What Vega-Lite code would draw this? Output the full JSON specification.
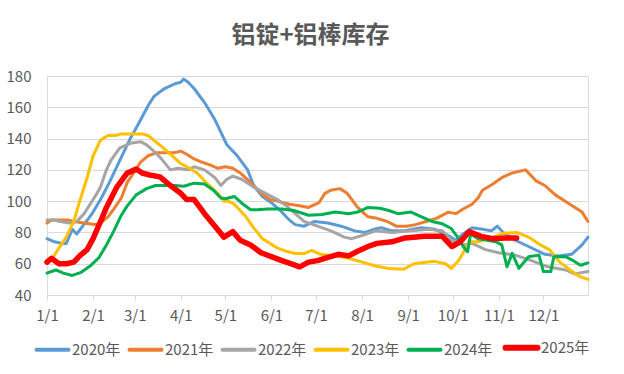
{
"$schema": "https://vega.github.io/schema/vega-lite/v6.json",
"width": 541, "height": 219,
"autosize": {"type": "none"},
"padding": {"left": 47, "top": 76, "right": 36, "bottom": 79},
"background": "white",
"title": {"text": "铝锭+铝棒库存", "fontSize": 24, "font": "Noto Sans CJK SC", "fontWeight": "bold", "color": "#595959", "offset": 21, "dx": -7},
"data": {"values": [
{"s":"2020年","day":0,"v":76},{"s":"2020年","day":5,"v":74},{"s":"2020年","day":10,"v":73},{"s":"2020年","day":13,"v":73},{"s":"2020年","day":17,"v":82},{"s":"2020年","day":20,"v":79},{"s":"2020年","day":24,"v":84},{"s":"2020年","day":28,"v":89},{"s":"2020年","day":31,"v":93},{"s":"2020年","day":36,"v":101},{"s":"2020年","day":42,"v":112},{"s":"2020年","day":49,"v":126},{"s":"2020年","day":56,"v":140},{"s":"2020年","day":59,"v":145},{"s":"2020年","day":63,"v":152},{"s":"2020年","day":68,"v":161},{"s":"2020年","day":72,"v":167},{"s":"2020年","day":79,"v":172},{"s":"2020年","day":86,"v":175},{"s":"2020年","day":90,"v":176},{"s":"2020年","day":92,"v":178},{"s":"2020年","day":95,"v":176},{"s":"2020年","day":99,"v":172},{"s":"2020年","day":106,"v":163},{"s":"2020年","day":113,"v":152},{"s":"2020年","day":118,"v":142},{"s":"2020年","day":121,"v":136},{"s":"2020年","day":128,"v":129},{"s":"2020年","day":135,"v":120},{"s":"2020年","day":139,"v":110},{"s":"2020年","day":145,"v":103},{"s":"2020年","day":151,"v":99},{"s":"2020年","day":157,"v":94},{"s":"2020年","day":163,"v":88},{"s":"2020年","day":167,"v":85},{"s":"2020年","day":173,"v":84},{"s":"2020年","day":180,"v":87},{"s":"2020年","day":189,"v":86},{"s":"2020年","day":198,"v":84},{"s":"2020年","day":207,"v":81},{"s":"2020年","day":214,"v":80},{"s":"2020年","day":220,"v":82},{"s":"2020年","day":225,"v":83},{"s":"2020年","day":232,"v":81},{"s":"2020年","day":240,"v":81},{"s":"2020年","day":246,"v":82},{"s":"2020年","day":252,"v":83},{"s":"2020年","day":261,"v":82},{"s":"2020年","day":270,"v":78},{"s":"2020年","day":275,"v":75},{"s":"2020年","day":280,"v":79},{"s":"2020年","day":286,"v":83},{"s":"2020年","day":293,"v":82},{"s":"2020年","day":299,"v":81},{"s":"2020年","day":303,"v":84},{"s":"2020年","day":307,"v":80},{"s":"2020年","day":315,"v":75},{"s":"2020年","day":324,"v":71},{"s":"2020年","day":335,"v":66},{"s":"2020年","day":344,"v":65},{"s":"2020年","day":353,"v":66},{"s":"2020年","day":360,"v":72},{"s":"2020年","day":364,"v":77},
{"s":"2021年","day":0,"v":86},{"s":"2021年","day":3,"v":88},{"s":"2021年","day":9,"v":88},{"s":"2021年","day":14,"v":88},{"s":"2021年","day":18,"v":87},{"s":"2021年","day":25,"v":86},{"s":"2021年","day":32,"v":85},{"s":"2021年","day":36,"v":86},{"s":"2021年","day":41,"v":90},{"s":"2021年","day":45,"v":95},{"s":"2021年","day":50,"v":102},{"s":"2021年","day":54,"v":112},{"s":"2021年","day":59,"v":119},{"s":"2021年","day":63,"v":125},{"s":"2021年","day":68,"v":129},{"s":"2021年","day":74,"v":131},{"s":"2021年","day":80,"v":131},{"s":"2021年","day":86,"v":131},{"s":"2021年","day":90,"v":132},{"s":"2021年","day":94,"v":130},{"s":"2021年","day":99,"v":127},{"s":"2021年","day":104,"v":125},{"s":"2021年","day":110,"v":123},{"s":"2021年","day":115,"v":121},{"s":"2021年","day":120,"v":122},{"s":"2021年","day":125,"v":121},{"s":"2021年","day":130,"v":118},{"s":"2021年","day":137,"v":112},{"s":"2021年","day":144,"v":105},{"s":"2021年","day":150,"v":101},{"s":"2021年","day":155,"v":100},{"s":"2021年","day":163,"v":98},{"s":"2021年","day":170,"v":97},{"s":"2021年","day":176,"v":96},{"s":"2021年","day":183,"v":99},{"s":"2021年","day":187,"v":105},{"s":"2021年","day":191,"v":107},{"s":"2021年","day":197,"v":108},{"s":"2021年","day":202,"v":105},{"s":"2021年","day":209,"v":96},{"s":"2021年","day":216,"v":90},{"s":"2021年","day":222,"v":89},{"s":"2021年","day":229,"v":87},{"s":"2021年","day":235,"v":84},{"s":"2021年","day":242,"v":84},{"s":"2021年","day":248,"v":85},{"s":"2021年","day":255,"v":87},{"s":"2021年","day":262,"v":89},{"s":"2021年","day":270,"v":93},{"s":"2021年","day":275,"v":92},{"s":"2021年","day":280,"v":95},{"s":"2021年","day":286,"v":98},{"s":"2021年","day":290,"v":102},{"s":"2021年","day":293,"v":107},{"s":"2021年","day":300,"v":111},{"s":"2021年","day":306,"v":115},{"s":"2021年","day":313,"v":118},{"s":"2021年","day":322,"v":120},{"s":"2021年","day":329,"v":113},{"s":"2021年","day":335,"v":110},{"s":"2021年","day":342,"v":104},{"s":"2021年","day":351,"v":98.5},{"s":"2021年","day":360,"v":93},{"s":"2021年","day":364,"v":87},
{"s":"2022年","day":0,"v":88},{"s":"2022年","day":4,"v":88},{"s":"2022年","day":9,"v":87},{"s":"2022年","day":15,"v":86},{"s":"2022年","day":20,"v":87},{"s":"2022年","day":25,"v":92},{"s":"2022年","day":29,"v":98},{"s":"2022年","day":33,"v":104},{"s":"2022年","day":36,"v":109},{"s":"2022年","day":40,"v":120},{"s":"2022年","day":43,"v":126},{"s":"2022年","day":49,"v":134},{"s":"2022年","day":56,"v":137},{"s":"2022年","day":63,"v":138},{"s":"2022年","day":67,"v":136},{"s":"2022年","day":73,"v":131},{"s":"2022年","day":77,"v":127},{"s":"2022年","day":83,"v":120},{"s":"2022年","day":88,"v":121},{"s":"2022年","day":95,"v":120},{"s":"2022年","day":99,"v":122},{"s":"2022年","day":106,"v":120},{"s":"2022年","day":113,"v":115},{"s":"2022年","day":117,"v":110},{"s":"2022年","day":121,"v":114},{"s":"2022年","day":125,"v":116},{"s":"2022年","day":131,"v":114},{"s":"2022年","day":139,"v":109},{"s":"2022年","day":147,"v":105},{"s":"2022年","day":155,"v":101},{"s":"2022年","day":161,"v":97},{"s":"2022年","day":167,"v":92},{"s":"2022年","day":173,"v":87},{"s":"2022年","day":182,"v":84},{"s":"2022年","day":191,"v":81},{"s":"2022年","day":200,"v":77},{"s":"2022年","day":205,"v":76},{"s":"2022年","day":212,"v":78},{"s":"2022年","day":221,"v":81},{"s":"2022年","day":232,"v":80},{"s":"2022年","day":245,"v":81},{"s":"2022年","day":257,"v":82},{"s":"2022年","day":266,"v":81},{"s":"2022年","day":272,"v":75},{"s":"2022年","day":281,"v":72},{"s":"2022年","day":286,"v":73},{"s":"2022年","day":295,"v":69},{"s":"2022年","day":304,"v":67},{"s":"2022年","day":315,"v":65.5},{"s":"2022年","day":326,"v":62},{"s":"2022年","day":337,"v":58},{"s":"2022年","day":349,"v":56},{"s":"2022年","day":355,"v":53.5},{"s":"2022年","day":364,"v":55},
{"s":"2023年","day":0,"v":61},{"s":"2023年","day":4,"v":64},{"s":"2023年","day":8,"v":70},{"s":"2023年","day":13,"v":77},{"s":"2023年","day":18,"v":87},{"s":"2023年","day":22,"v":100},{"s":"2023年","day":27,"v":115},{"s":"2023年","day":31,"v":129},{"s":"2023年","day":36,"v":139},{"s":"2023年","day":41,"v":142},{"s":"2023年","day":46,"v":142},{"s":"2023年","day":50,"v":143},{"s":"2023年","day":55,"v":143},{"s":"2023年","day":59,"v":143},{"s":"2023年","day":64,"v":143},{"s":"2023年","day":68,"v":142},{"s":"2023年","day":73,"v":138},{"s":"2023年","day":77,"v":135},{"s":"2023年","day":83,"v":130},{"s":"2023年","day":90,"v":124},{"s":"2023年","day":96,"v":121},{"s":"2023年","day":101,"v":118},{"s":"2023年","day":108,"v":111},{"s":"2023年","day":115,"v":105},{"s":"2023年","day":119,"v":100},{"s":"2023年","day":122,"v":100},{"s":"2023年","day":126,"v":98},{"s":"2023年","day":133,"v":91},{"s":"2023年","day":139,"v":83},{"s":"2023年","day":145,"v":76},{"s":"2023年","day":150,"v":73},{"s":"2023年","day":155,"v":70},{"s":"2023年","day":161,"v":68},{"s":"2023年","day":167,"v":66.5},{"s":"2023年","day":173,"v":66.5},{"s":"2023年","day":178,"v":68.5},{"s":"2023年","day":184,"v":66},{"s":"2023年","day":193,"v":65},{"s":"2023年","day":203,"v":63.5},{"s":"2023年","day":212,"v":61},{"s":"2023年","day":221,"v":58.5},{"s":"2023年","day":230,"v":57},{"s":"2023年","day":240,"v":56.5},{"s":"2023年","day":247,"v":60},{"s":"2023年","day":255,"v":61},{"s":"2023年","day":261,"v":61.5},{"s":"2023年","day":268,"v":60},{"s":"2023年","day":272,"v":57},{"s":"2023年","day":277,"v":62},{"s":"2023年","day":280,"v":67},{"s":"2023年","day":284,"v":74},{"s":"2023年","day":290,"v":74},{"s":"2023年","day":300,"v":77},{"s":"2023年","day":307,"v":79.4},{"s":"2023年","day":316,"v":80},{"s":"2023年","day":324,"v":77},{"s":"2023年","day":332,"v":72},{"s":"2023年","day":338,"v":69},{"s":"2023年","day":345,"v":61},{"s":"2023年","day":352,"v":56},{"s":"2023年","day":358,"v":52},{"s":"2023年","day":364,"v":50},
{"s":"2024年","day":0,"v":54},{"s":"2024年","day":3,"v":55},{"s":"2024年","day":6,"v":56},{"s":"2024年","day":11,"v":54},{"s":"2024年","day":17,"v":52.5},{"s":"2024年","day":23,"v":54.5},{"s":"2024年","day":29,"v":58.5},{"s":"2024年","day":35,"v":64},{"s":"2024年","day":40,"v":72},{"s":"2024年","day":45,"v":81},{"s":"2024年","day":50,"v":91},{"s":"2024年","day":54,"v":97},{"s":"2024年","day":60,"v":104},{"s":"2024年","day":67,"v":108},{"s":"2024年","day":73,"v":110},{"s":"2024年","day":79,"v":110},{"s":"2024年","day":86,"v":110},{"s":"2024年","day":92,"v":109.5},{"s":"2024年","day":99,"v":111.5},{"s":"2024年","day":106,"v":111},{"s":"2024年","day":112,"v":107},{"s":"2024年","day":117,"v":102},{"s":"2024年","day":120,"v":101.5},{"s":"2024年","day":126,"v":103},{"s":"2024年","day":132,"v":98},{"s":"2024年","day":137,"v":94.5},{"s":"2024年","day":142,"v":94.5},{"s":"2024年","day":148,"v":95},{"s":"2024年","day":158,"v":95},{"s":"2024年","day":166,"v":94},{"s":"2024年","day":176,"v":91},{"s":"2024年","day":185,"v":91.5},{"s":"2024年","day":194,"v":93},{"s":"2024年","day":203,"v":92},{"s":"2024年","day":209,"v":93},{"s":"2024年","day":216,"v":96},{"s":"2024年","day":224,"v":95.5},{"s":"2024年","day":230,"v":94},{"s":"2024年","day":236,"v":92},{"s":"2024年","day":245,"v":93},{"s":"2024年","day":252,"v":90},{"s":"2024年","day":259,"v":87},{"s":"2024年","day":266,"v":85.5},{"s":"2024年","day":272,"v":82.5},{"s":"2024年","day":277,"v":76},{"s":"2024年","day":280,"v":71},{"s":"2024年","day":283,"v":67.7},{"s":"2024年","day":285,"v":79},{"s":"2024年","day":290,"v":76},{"s":"2024年","day":296,"v":75},{"s":"2024年","day":302,"v":74},{"s":"2024年","day":306,"v":72},{"s":"2024年","day":309.5,"v":58},{"s":"2024年","day":313,"v":66.6},{"s":"2024年","day":317.5,"v":57},{"s":"2024年","day":324,"v":64.5},{"s":"2024年","day":331,"v":65.5},{"s":"2024年","day":334,"v":55},{"s":"2024年","day":339,"v":55},{"s":"2024年","day":341,"v":64.5},{"s":"2024年","day":349,"v":64.5},{"s":"2024年","day":353,"v":62.5},{"s":"2024年","day":359,"v":59},{"s":"2024年","day":364,"v":60.5},
{"s":"2025年","day":0,"v":61},{"s":"2025年","day":3,"v":63.5},{"s":"2025年","day":8,"v":60},{"s":"2025年","day":13,"v":60},{"s":"2025年","day":18,"v":61},{"s":"2025年","day":22,"v":65},{"s":"2025年","day":27,"v":69},{"s":"2025年","day":31,"v":76},{"s":"2025年","day":36,"v":87},{"s":"2025年","day":40,"v":96},{"s":"2025年","day":47,"v":109},{"s":"2025年","day":54,"v":118},{"s":"2025年","day":60,"v":120.5},{"s":"2025年","day":64,"v":118},{"s":"2025年","day":70,"v":116.5},{"s":"2025年","day":76,"v":115.5},{"s":"2025年","day":83,"v":110},{"s":"2025年","day":90,"v":105},{"s":"2025年","day":94,"v":101},{"s":"2025年","day":99,"v":101},{"s":"2025年","day":106,"v":92},{"s":"2025年","day":112,"v":85},{"s":"2025年","day":119,"v":77},{"s":"2025年","day":125,"v":80.5},{"s":"2025年","day":130,"v":75},{"s":"2025年","day":137,"v":72},{"s":"2025年","day":144,"v":67},{"s":"2025年","day":151,"v":64.5},{"s":"2025年","day":158,"v":62},{"s":"2025年","day":164,"v":60},{"s":"2025年","day":170,"v":58},{"s":"2025年","day":176,"v":61},{"s":"2025年","day":182,"v":62},{"s":"2025年","day":189,"v":64},{"s":"2025年","day":196,"v":66},{"s":"2025年","day":203,"v":65},{"s":"2025年","day":209,"v":68},{"s":"2025年","day":216,"v":71},{"s":"2025年","day":222,"v":73},{"s":"2025年","day":232,"v":74},{"s":"2025年","day":241,"v":76.5},{"s":"2025年","day":254,"v":77.5},{"s":"2025年","day":266,"v":77.5},{"s":"2025年","day":272.5,"v":71},{"s":"2025年","day":278,"v":74},{"s":"2025年","day":284,"v":80.5},{"s":"2025年","day":292,"v":77.5},{"s":"2025年","day":300,"v":76},{"s":"2025年","day":308,"v":76.5},{"s":"2025年","day":316,"v":76.5}
]},
"mark": {"type": "line", "strokeCap": "round", "strokeJoin": "round"},
"encoding": {
"x": {"field": "day", "type": "quantitative", "scale": {"domain": [0, 364], "nice": false, "zero": false},
 "axis": {"title": null, "values": [0,31,59,90,120,151,181,212,243,273,304,334], "labelExpr": "(indexof([0,31,59,90,120,151,181,212,243,273,304,334], datum.value) + 1) + '/1'", "labelFlush": false, "labelOverlap": false, "grid": false, "domainColor": "#D9D9D9", "tickColor": "#D9D9D9", "tickSize": 5, "labelColor": "#595959", "labelFontSize": 15, "labelFont": "Noto Sans CJK SC", "labelPadding": 8}},
"y": {"field": "v", "type": "quantitative", "scale": {"domain": [40, 180], "nice": false, "zero": false},
 "axis": {"title": null, "values": [40,60,80,100,120,140,160,180], "domain": false, "ticks": false, "gridColor": "#D9D9D9", "labelColor": "#595959", "labelFontSize": 15, "labelFont": "Noto Sans CJK SC", "labelPadding": 16}},
"color": {"field": "s", "type": "nominal", "scale": {"domain": ["2020年","2021年","2022年","2023年","2024年","2025年"], "range": ["#5B9BD5","#ED7D31","#A5A5A5","#FFC000","#00B050","#FF0000"]},
 "legend": {"title": null, "orient": "none", "legendX": -2, "legendY": 264, "direction": "horizontal", "symbolType": "stroke", "symbolSize": 1024, "symbolStrokeWidth": 4, "labelFontSize": 15, "labelFont": "Noto Sans CJK SC", "labelColor": "#595959", "labelOffset": 12, "columnPadding": 0,
  "encode": {"symbols": {"update": {"strokeWidth": {"signal": "datum.label === '2025年' ? 6 : 4"}, "strokeCap": {"value": "round"}}}}}},
"strokeWidth": {"condition": {"test": "datum.s === '2025年'", "value": 5.5}, "value": 3}
}
}
